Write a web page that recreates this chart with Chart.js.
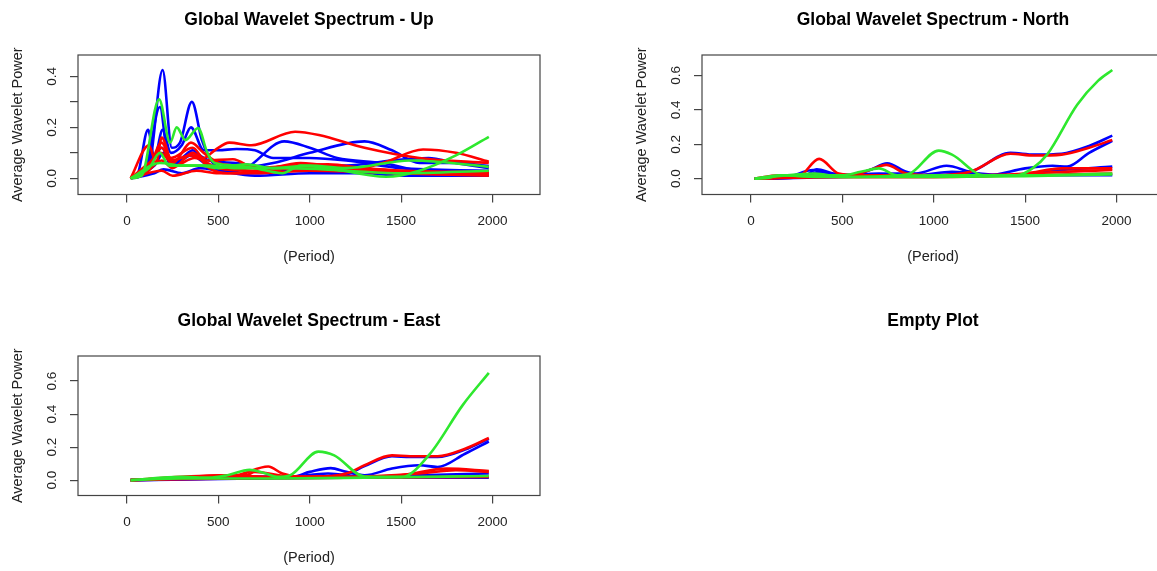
<!DOCTYPE html>
<html>
<head>
<meta charset="utf-8">
<script src="https://cdn.jsdelivr.net/npm/chart.js@4.4.1/dist/chart.umd.min.js"></script>
<style>
  html, body { margin: 0; padding: 0; background: #fff; overflow: hidden; }
  body { width: 1157px; height: 571px; position: relative; }
  canvas { position: absolute; }
</style>
</head>
<body>
<canvas id="up" width="618" height="301" style="left:0;top:0"></canvas>
<canvas id="north" width="618" height="301" style="left:624px;top:0"></canvas>
<canvas id="east" width="618" height="301" style="left:0;top:301px"></canvas>
<canvas id="empty" width="618" height="301" style="left:624px;top:301px"></canvas>
<script>
// tick marks and the ones that get a label
const periodTicks = [0, 500, 1000, 1500, 2000];
const upPowerTicks = [0, 0.1, 0.2, 0.3, 0.4];
const upPowerLabels = [0, 0.2, 0.4];
const nePowerTicks = [0, 0.2, 0.4, 0.6];

// each line is a list of [period, average wavelet power]
const upBlue = [
  [[20,0],[80,0.01],[130,0.08],[195,0.425],[245,0.12],[290,0.14],[355,0.30],[410,0.15],[470,0.06],[560,0.03],[700,0.02],[900,0.03],[1200,0.03],[1500,0.02],[1980,0.015]],
  [[20,0],[60,0.02],[115,0.19],[150,0.08],[195,0.19],[240,0.10],[300,0.13],[350,0.20],[420,0.11],[500,0.11],[600,0.115],[700,0.11],[800,0.08],[1000,0.08],[1200,0.07],[1500,0.04],[1980,0.03]],
  [[20,0],[100,0.03],[180,0.28],[230,0.06],[300,0.08],[360,0.11],[450,0.05],[550,0.03],[650,0.04],[860,0.145],[1000,0.12],[1150,0.08],[1400,0.06],[1600,0.03],[1980,0.02]],
  [[20,0],[120,0.04],[190,0.12],[250,0.05],[350,0.09],[450,0.05],[600,0.04],[800,0.06],[1000,0.10],[1300,0.145],[1450,0.11],[1600,0.06],[1800,0.06],[1980,0.048]],
  [[20,0],[150,0.02],[200,0.035],[300,0.02],[400,0.04],[500,0.03],[700,0.01],[1000,0.02],[1300,0.02],[1500,0.01],[1980,0.01]],
  [[20,0],[150,0.05],[200,0.10],[260,0.06],[360,0.10],[450,0.07],[600,0.06],[800,0.04],[1000,0.05],[1200,0.05],[1450,0.07],[1650,0.08],[1800,0.06],[1980,0.04]]
];
const upRed = [
  [[20,0],[100,0.02],[190,0.12],[240,0.07],[350,0.09],[420,0.08],[480,0.11],[560,0.14],[680,0.13],[920,0.183],[1050,0.17],[1300,0.12],[1600,0.08],[1980,0.06]],
  [[20,0],[120,0.13],[160,0.06],[190,0.16],[250,0.06],[350,0.14],[420,0.10],[500,0.06],[600,0.05],[800,0.04],[1000,0.04],[1200,0.03],[1400,0.06],[1620,0.113],[1800,0.10],[1980,0.065]],
  [[20,0],[120,0.04],[190,0.14],[240,0.08],[360,0.12],[430,0.07],[580,0.075],[700,0.04],[900,0.05],[1100,0.055],[1300,0.04],[1500,0.03],[1980,0.025]],
  [[20,0],[100,0.02],[190,0.07],[250,0.04],[360,0.10],[450,0.04],[550,0.02],[800,0.03],[1000,0.05],[1200,0.04],[1500,0.02],[1980,0.015]],
  [[20,0],[190,0.03],[250,0.01],[380,0.03],[500,0.02],[700,0.02],[1000,0.03],[1500,0.02],[1980,0.01]],
  [[20,0],[120,0.06],[185,0.10],[260,0.05],[370,0.08],[500,0.04],[700,0.03],[950,0.06],[1200,0.04],[1500,0.03],[1980,0.02]]
];
const upGreen = [
  [[20,0],[80,0.01],[176,0.31],[236,0.14],[272,0.20],[320,0.15],[389,0.197],[440,0.10],[480,0.06],[600,0.05],[700,0.04],[850,0.02],[950,0.05],[1100,0.04],[1418,0.006],[1600,0.03],[1800,0.09],[1980,0.163]],
  [[20,0],[120,0.04],[180,0.10],[230,0.05],[300,0.05],[400,0.05],[500,0.04],[650,0.055],[800,0.04],[1000,0.05],[1200,0.04],[1550,0.07],[1700,0.065],[1980,0.045]],
  [[20,0],[180,0.06],[300,0.05],[450,0.05],[600,0.04],[900,0.04],[1200,0.03],[1500,0.02],[1980,0.03]]
];

const northBlue = [
  [[20,0],[150,0.01],[300,0.02],[360,0.055],[450,0.03],[550,0.02],[650,0.05],[745,0.09],[850,0.04],[950,0.02],[1200,0.04],[1420,0.15],[1550,0.14],[1700,0.145],[1850,0.19],[1977,0.25]],
  [[20,0],[200,0.01],[340,0.05],[450,0.025],[600,0.02],[800,0.03],[900,0.03],[1070,0.075],[1200,0.04],[1300,0.02],[1500,0.06],[1650,0.075],[1730,0.07],[1850,0.15],[1977,0.22]],
  [[20,0],[300,0.01],[370,0.04],[500,0.02],[700,0.03],[900,0.02],[1100,0.04],[1400,0.02],[1700,0.05],[1977,0.07]],
  [[20,0],[500,0.01],[1000,0.02],[1500,0.02],[1977,0.02]]
];
const northRed = [
  [[20,0],[150,0.005],[300,0.01],[400,0.02],[550,0.02],[650,0.05],[740,0.08],[850,0.03],[1000,0.02],[1200,0.04],[1420,0.145],[1550,0.135],[1700,0.14],[1850,0.18],[1977,0.225]],
  [[20,0],[150,0.02],[260,0.015],[373,0.115],[480,0.03],[600,0.02],[800,0.02],[1000,0.015],[1200,0.02],[1500,0.03],[1700,0.06],[1977,0.06]],
  [[20,0],[300,0.01],[600,0.01],[1000,0.01],[1400,0.02],[1700,0.04],[1977,0.05]],
  [[20,0],[500,0.01],[1000,0.01],[1500,0.02],[1977,0.03]]
];
const northGreen = [
  [[20,0],[100,0.005],[160,0.02],[300,0.015],[400,0.02],[500,0.02],[600,0.04],[700,0.06],[800,0.02],[870,0.03],[1027,0.163],[1100,0.14],[1274,0.02],[1456,0.02],[1540,0.06],[1620,0.14],[1785,0.43],[1900,0.57],[1977,0.632]],
  [[20,0],[160,0.02],[400,0.01],[700,0.01],[1000,0.01],[1500,0.015],[1977,0.025]],
  [[20,0],[350,0.03],[500,0.01],[1000,0.02],[1500,0.02],[1977,0.03]]
];

const eastBlue = [
  [[20,0],[400,0.015],[700,0.02],[1000,0.02],[1200,0.035],[1300,0.085],[1450,0.145],[1550,0.14],[1700,0.14],[1850,0.185],[1980,0.25]],
  [[20,0],[300,0.01],[600,0.02],[900,0.02],[1000,0.05],[1115,0.073],[1200,0.05],[1300,0.03],[1450,0.07],[1600,0.09],[1700,0.08],[1850,0.16],[1980,0.234]],
  [[20,0],[500,0.01],[900,0.02],[1100,0.04],[1300,0.02],[1600,0.03],[1980,0.04]],
  [[20,0],[700,0.01],[1200,0.015],[1980,0.015]]
];
const eastRed = [
  [[20,0],[200,0.01],[400,0.02],[550,0.03],[650,0.03],[700,0.05],[900,0.02],[1000,0.02],[1200,0.04],[1300,0.09],[1450,0.15],[1550,0.145],[1700,0.145],[1850,0.19],[1980,0.255]],
  [[20,0],[200,0.01],[400,0.02],[600,0.03],[773,0.083],[850,0.04],[950,0.02],[1200,0.02],[1500,0.03],[1750,0.07],[1980,0.055]],
  [[20,0],[300,0.02],[500,0.03],[800,0.02],[1200,0.02],[1600,0.04],[1800,0.06],[1980,0.05]],
  [[20,0],[600,0.01],[1200,0.015],[1980,0.02]]
];
const eastGreen = [
  [[20,0],[300,0.02],[450,0.015],[550,0.03],[671,0.062],[760,0.04],[820,0.02],[893,0.03],[1047,0.173],[1134,0.15],[1300,0.022],[1505,0.02],[1653,0.153],[1838,0.456],[1980,0.65]],
  [[20,0],[300,0.01],[800,0.01],[1300,0.015],[1980,0.025]]
];

const FONT = '"Liberation Sans", Arial, Helvetica, sans-serif';
Chart.defaults.font.family = FONT;
Chart.defaults.color = '#222';

function toSets(lines, colour) {
  return lines.map(pts => ({
    data: pts.map(p => ({ x: p[0], y: p[1] })),
    borderColor: colour,
    borderWidth: 2.6,
    pointRadius: 0,
    fill: false,
    cubicInterpolationMode: 'monotone'
  }));
}

// box round the plot region and R style y tick labels (parallel to the axis)
const rBox = {
  id: 'rBox',
  afterDraw(chart, args, opts) {
    const ys = chart.scales.y;
    if (!ys || !ys.options.display) return;
    const a = chart.chartArea, ctx = chart.ctx;
    ctx.save();
    ctx.strokeStyle = '#444';
    ctx.lineWidth = 1.2;
    ctx.strokeRect(a.left, a.top, a.right - a.left, a.bottom - a.top);
    ctx.fillStyle = '#222';
    ctx.font = '13.5px ' + FONT;
    ctx.textAlign = 'center';
    ctx.textBaseline = 'middle';
    opts.labels.forEach(v => {
      ctx.save();
      ctx.translate(a.left - 26, ys.getPixelForValue(v));
      ctx.rotate(-Math.PI / 2);
      ctx.fillText(v.toFixed(1), 0, 0);
      ctx.restore();
    });
    ctx.restore();
  }
};

function titleOpts(text) {
  return {
    display: true, text: text, color: '#000',
    font: { size: 17.5, weight: 'bold' },
    padding: { top: 10, bottom: 24 }
  };
}

function panel(id, title, blue, red, green, yMin, yMax, yTicks, yLabels) {
  new Chart(document.getElementById(id), {
    type: 'line',
    data: { datasets: [...toSets(green, '#2ee82e'), ...toSets(red, '#ff0000'), ...toSets(blue, '#0000ff')] },
    options: {
      responsive: false,
      animation: false,
      events: [],
      layout: { padding: 0 },
      plugins: {
        legend: { display: false },
        tooltip: { enabled: false },
        title: titleOpts(title),
        rBox: { labels: yLabels }
      },
      scales: {
        x: {
          type: 'linear', min: -268, max: 2260,
          afterBuildTicks: s => { s.ticks = periodTicks.map(v => ({ value: v })); },
          afterFit: s => { s.height = 106.5; },
          grid: { display: true, drawOnChartArea: false, drawTicks: true, tickLength: 8, color: '#444', lineWidth: 1.2 },
          border: { display: false },
          ticks: { font: { size: 13.5 }, padding: 11, maxRotation: 0, autoSkip: false, callback: v => String(v) },
          title: { display: true, text: '(Period)', font: { size: 14.5 }, padding: { top: 0, bottom: 35 } }
        },
        y: {
          type: 'linear', min: yMin, max: yMax,
          afterBuildTicks: s => { s.ticks = yTicks.map(v => ({ value: v })); },
          afterFit: s => { s.width = 78; },
          grid: { display: true, drawOnChartArea: false, drawTicks: true, tickLength: 8, color: '#444', lineWidth: 1.2 },
          border: { display: false },
          ticks: { display: false },
          title: { display: true, text: 'Average Wavelet Power', font: { size: 14.5 }, padding: { top: 9, bottom: 0 } }
        },
        // empty right margin so the title sits over the middle of the box
        yr: {
          type: 'linear', position: 'right', display: true,
          grid: { display: false }, border: { display: false }, ticks: { display: false },
          afterFit: s => { s.width = 78; }
        }
      }
    },
    plugins: [rBox]
  });
}

panel('up', 'Global Wavelet Spectrum - Up', upBlue, upRed, upGreen, -0.0635, 0.484, upPowerTicks, upPowerLabels);
panel('north', 'Global Wavelet Spectrum - North', northBlue, northRed, northGreen, -0.092, 0.719, nePowerTicks, nePowerTicks);
panel('east', 'Global Wavelet Spectrum - East', eastBlue, eastRed, eastGreen, -0.093, 0.752, nePowerTicks, nePowerTicks);

new Chart(document.getElementById('empty'), {
  type: 'line',
  data: { datasets: [] },
  options: {
    responsive: false,
    animation: false,
    events: [],
    plugins: { legend: { display: false }, tooltip: { enabled: false }, title: titleOpts('Empty Plot') },
    scales: { x: { display: false }, y: { display: false } }
  }
});
</script>
</body>
</html>
